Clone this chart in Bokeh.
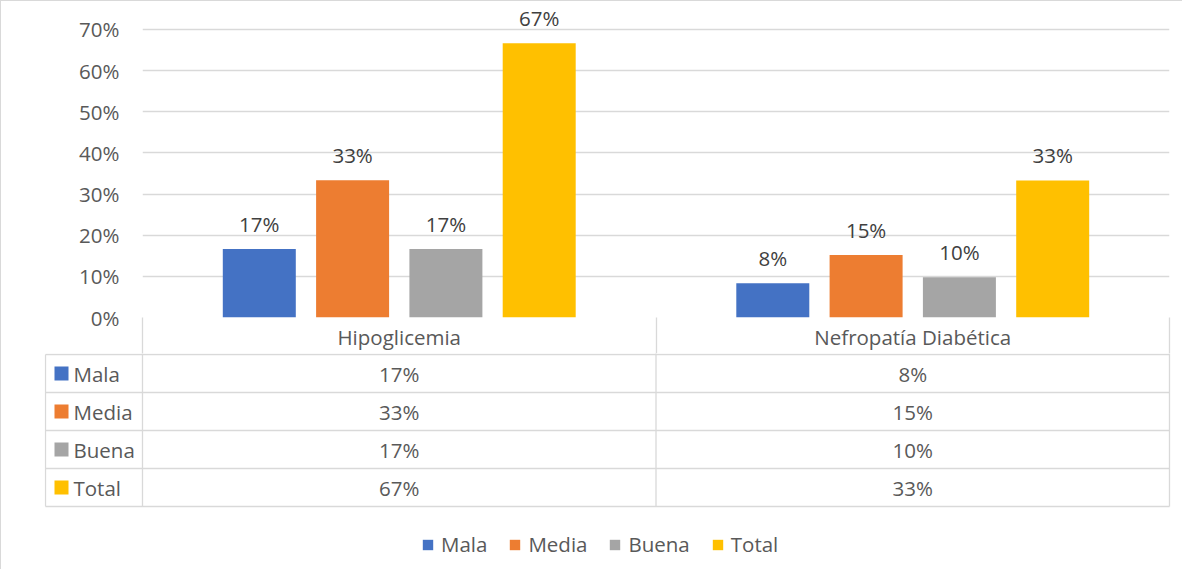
from bokeh.plotting import figure
from bokeh.layouts import column
from bokeh.models import (Range1d, FixedTicker, NumeralTickFormatter,
                          ColumnDataSource, Legend, LegendItem, LinearAxis)
from bokeh.transform import dodge
from bokeh.core.properties import value
from bokeh.embed import file_html
from bokeh.resources import INLINE

# ---------------- data ----------------
categories = ["Hipoglicemia", "Nefropatía Diabética"]
series = ["Mala", "Media", "Buena", "Total"]
mala = [0.1667, 0.083]
media = [0.3333, 0.152]
buena = [0.1667, 0.098]
total = [0.6667, 0.333]
y_ticks = [0.0, 0.1, 0.2, 0.3, 0.4, 0.5, 0.6, 0.7]
colors = ["#4472C4", "#ED7D31", "#A5A5A5", "#FFC000"]

values = {"Mala": mala, "Media": media, "Buena": buena, "Total": total}

FONT = "Open Sans"
FS = "20.5px"
TXT = "#595959"
LBL = "#404040"
GRID = "#D9D9D9"

def pct(v):
    return "{:.0%}".format(v)

ncat = len(categories)
cat_pos = [i + 0.5 for i in range(ncat)]   # centre of each category slot

# ---------------- chart + header row (top) ----------------
W = 1182
CAT_PX = 513.5           # pixel width of one category
PX_PER_UNIT = 411.43     # pixels per 1.0 on the y axis
HDR = 36                 # header row height below the plot frame
TOP_H = 353
A_top = 4
frame_h = TOP_H - A_top - HDR
y_end = frame_h / PX_PER_UNIT

A = figure(width=W, height=TOP_H,
           x_range=Range1d(0, ncat),
           y_range=Range1d(0, y_end),
           output_backend="svg", toolbar_location=None,
           x_axis_location=None, frame_align=False,
           min_border_left=142, min_border_right=13,
           min_border_top=A_top, min_border_bottom=HDR,
           border_fill_color=None, outline_line_color=None)

src = ColumnDataSource(dict(
    pos=cat_pos,
    Mala=mala, Media=media, Buena=buena, Total=total,
    Mala_t=[pct(v) for v in mala], Media_t=[pct(v) for v in media],
    Buena_t=[pct(v) for v in buena], Total_t=[pct(v) for v in total],
))

pitch = 93.3 / CAT_PX
bar_w = 73 / CAT_PX
for i, s in enumerate(series):
    off = (i - 1.5) * pitch
    A.vbar(x=dodge("pos", off), top=s, width=bar_w,
           bottom=0, source=src, fill_color=colors[i], line_color=None)
    A.text(x=dodge("pos", off), y=s, text=s + "_t", source=src,
           text_align="center", text_baseline="middle", y_offset=-25,
           text_font=value(FONT), text_font_size=value(FS), text_color=LBL)

A.yaxis.ticker = FixedTicker(ticks=y_ticks)
A.yaxis.formatter = NumeralTickFormatter(format="0%")
A.yaxis.axis_line_color = None
A.yaxis.major_tick_line_color = None
A.yaxis.minor_tick_line_color = None
A.yaxis.major_tick_out = 0
A.yaxis.major_tick_in = 0
A.yaxis.major_label_standoff = 23
A.yaxis.major_label_text_font = FONT
A.yaxis.major_label_text_font_size = FS
A.yaxis.major_label_text_color = TXT
A.ygrid.grid_line_color = GRID
A.ygrid.grid_line_width = 1.3
A.xgrid.grid_line_color = None

# header row of the data table: category names + cell separators
hdr_axis = LinearAxis(
    ticker=FixedTicker(ticks=cat_pos, minor_ticks=list(range(ncat + 1))),
    major_label_overrides={p_: c for p_, c in zip(cat_pos, categories)},
    axis_line_color=None, major_tick_line_color=None,
    major_tick_out=0, major_tick_in=0,
    minor_tick_out=HDR, minor_tick_in=0,
    minor_tick_line_color=GRID, minor_tick_line_width=1.3,
    major_label_standoff=-31,
    major_label_text_font=FONT, major_label_text_font_size=FS,
    major_label_text_color=TXT)
A.add_layout(hdr_axis, "below")

# ---------------- data table body + legend (bottom) ----------------
BOT_H = 216
ROW = 38.0
B_left, B_right = 44, 11
x_start = -(150 - 8 - B_left) / CAT_PX
x_end = ncat + 2 / CAT_PX
y_top = 1 - 1 / ROW
y_bot = y_top + BOT_H / ROW

B = figure(width=W, height=BOT_H,
           x_range=Range1d(x_start, x_end),
           y_range=Range1d(y_bot, y_top),
           output_backend="svg", toolbar_location=None,
           x_axis_location=None, y_axis_location=None, frame_align=False,
           min_border_left=B_left, min_border_right=B_right,
           min_border_top=0, min_border_bottom=0,
           border_fill_color=None, outline_line_color=None)
B.xgrid.grid_line_color = None
B.ygrid.grid_line_color = None

n_rows = len(series) + 1
leg_left = -97 / CAT_PX
hx0, hx1, hy = [], [], []
for r in range(1, n_rows + 1):
    hx0.append(leg_left); hx1.append(ncat); hy.append(r)
B.segment(x0=hx0, x1=hx1, y0=hy, y1=hy, line_color=GRID, line_width=1.3)
vx, vy0, vy1 = [leg_left], [1], [n_rows]
for c in range(ncat + 1):
    vx.append(c); vy0.append(0); vy1.append(n_rows)
B.segment(x0=vx, x1=vx, y0=vy0, y1=vy1, line_color=GRID, line_width=1.3)

tx, ty, tt = [], [], []
for j, s in enumerate(series):
    for i, v in enumerate(values[s]):
        tx.append(cat_pos[i]); ty.append(j + 1.5); tt.append(pct(v))
B.text(x=tx, y=ty, text=tt, text_align="center", text_baseline="middle",
       text_font=value(FONT), text_font_size=value(FS), text_color=TXT)

ky = [j + 1.5 for j in range(len(series))]
sq = B.rect(x=[-81 / CAT_PX] * len(series), y=ky, width=14, height=14,
            width_units="screen", height_units="screen",
            fill_color=colors, line_color=None)
B.text(x=[-69 / CAT_PX] * len(series), y=ky, text=series,
       text_align="left", text_baseline="middle",
       text_font=value(FONT), text_font_size=value(FS), text_color=TXT)

legend = Legend(items=[LegendItem(label=s, renderers=[sq], index=j)
                       for j, s in enumerate(series)],
                orientation="horizontal", location=(377, 11),
                border_line_color=None, background_fill_alpha=0,
                padding=0, margin=0, spacing=21, label_standoff=7,
                glyph_width=13, glyph_height=13, label_height=20,
                label_text_font=FONT, label_text_font_size=FS,
                label_text_color=TXT)
B.add_layout(legend)

p = column(A, B, styles={"box-shadow": "inset 1px 1px 0 0 #D9D9D9"})

open("out.html", "w").write(file_html(p, INLINE))
